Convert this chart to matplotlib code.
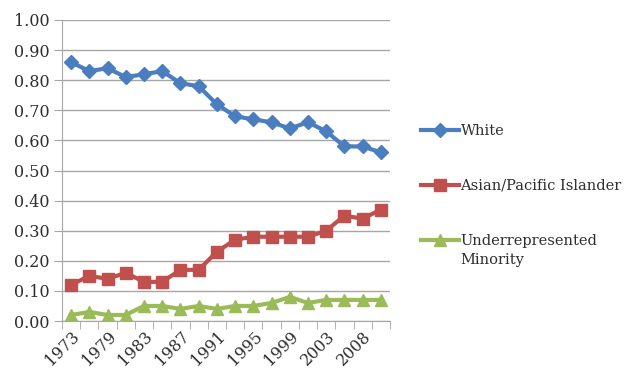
import numpy as np
import matplotlib.pyplot as plt
from matplotlib.lines import Line2D

# category years (every other one is labelled on the axis)
years = ["1973", "1976", "1979", "1981", "1983", "1985", "1987", "1989", "1991",
         "1993", "1995", "1997", "1999", "2001", "2003", "2006", "2008", "2010"]
white = [0.86, 0.83, 0.84, 0.81, 0.82, 0.83, 0.79, 0.78, 0.72,
         0.68, 0.67, 0.66, 0.64, 0.66, 0.63, 0.58, 0.58, 0.56]
asian = [0.12, 0.15, 0.14, 0.16, 0.13, 0.13, 0.17, 0.17, 0.23,
         0.27, 0.28, 0.28, 0.28, 0.28, 0.30, 0.35, 0.34, 0.37]
urm = [0.02, 0.03, 0.02, 0.02, 0.05, 0.05, 0.04, 0.05, 0.04,
       0.05, 0.05, 0.06, 0.08, 0.06, 0.07, 0.07, 0.07, 0.07]

c_white = "#4A7EBF"
c_asian = "#C0504D"
c_urm = "#9BBB59"
grid_c = "#A6A6A6"
txt_c = "#2E2E2E"

plt.rcParams['font.family'] = ['DejaVu Serif']

fig = plt.figure(figsize=(6.31, 3.72), dpi=100)
ax = fig.add_axes([62/631, 51/372, (390-62)/631, (321-20)/372])

x = np.arange(len(years))
ax.plot(x, white, color=c_white, lw=3, marker="D", ms=7, label="White")
ax.plot(x, asian, color=c_asian, lw=3, marker="s", ms=8, label="Asian/Pacific Islander")
ax.plot(x, urm, color=c_urm, lw=3, marker="^", ms=8, label="Underrepresented")

ax.set_ylim(0, 1.0)
ax.set_xlim(-0.5, len(years) - 0.5)
ax.set_yticks(np.arange(0, 1.01, 0.1))
ax.set_yticklabels([f"{v:.2f}" for v in np.arange(0, 1.01, 0.1)], fontsize=11.5, color=txt_c)
ax.yaxis.grid(True, color=grid_c, lw=1)
ax.set_axisbelow(True)
ax.tick_params(axis="y", length=6, color=grid_c, pad=3)

ax.set_xticks(x[::2])
ax.set_xticklabels(years[::2], rotation=45, ha="right", rotation_mode="anchor",
                   fontsize=11.5, color=txt_c)
ax.set_xticks(np.arange(-0.5, len(years), 1), minor=True)
ax.tick_params(axis="x", which="major", length=0, pad=5)
ax.tick_params(axis="x", which="minor", length=6, color=grid_c, direction="out")

for s in ["top", "right"]:
    ax.spines[s].set_visible(False)
ax.spines["left"].set_color(grid_c)
ax.spines["bottom"].set_color(grid_c)

handles = [Line2D([0], [0], color=c_white, lw=3, marker="D", ms=7),
           Line2D([0], [0], color=c_asian, lw=3, marker="s", ms=8),
           Line2D([0], [0], color=c_urm, lw=3, marker="^", ms=8)]
labels = ["White", "Asian/Pacific Islander", "Underrepresented"]
leg = fig.legend(handles, labels, loc="upper left", bbox_to_anchor=(408/631, 1 - 111/372),
                 frameon=False, fontsize=10.5, handlelength=2.6, handletextpad=0.1,
                 labelspacing=2.8, labelcolor=txt_c)

# second line of the last legend label, placed under the first one
fig.canvas.draw()
bb = leg.get_texts()[2].get_window_extent()
fig.text(bb.x0 / fig.bbox.width, (bb.y0 - 5) / fig.bbox.height, "Minority",
         fontsize=10.5, color=txt_c, va="top", ha="left")

fig.savefig("out.png", dpi=100)
